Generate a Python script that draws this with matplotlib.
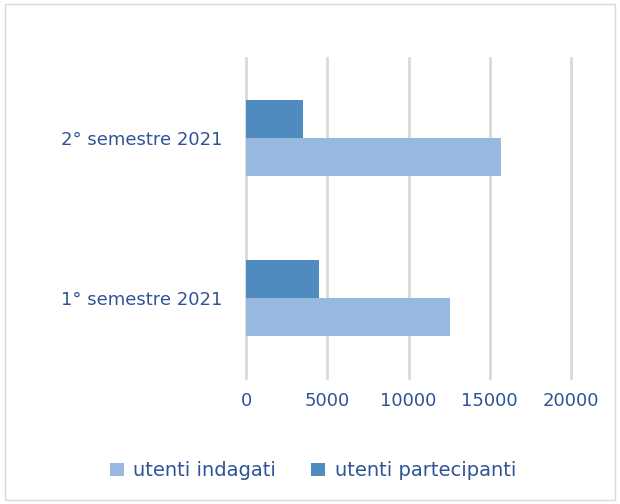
import numpy as np
import matplotlib.pyplot as plt
from matplotlib.patches import Rectangle

# dati del grafico
categorie = ['1° semestre 2021', '2° semestre 2021']
indagati = [12550, 15700]
partecipanti = [4500, 3500]
serie = ['utenti indagati', 'utenti partecipanti']
xticks = [0, 5000, 10000, 15000, 20000]

col_ind = '#97B9E0'
col_par = '#4F8BBE'
col_txt = '#2F5496'

plt.rcParams['font.family'] = ['DejaVu Sans']

fig = plt.figure(figsize=(6.2, 5.04), dpi=100)
ax = fig.add_axes([0.397, 0.25, 0.524, 0.635])

y = np.arange(len(categorie))
h = 0.24
ax.barh(y - h / 2, indagati, height=h, color=col_ind, label=serie[0], zorder=3)
ax.barh(y + h / 2, partecipanti, height=h, color=col_par, label=serie[1], zorder=3)

ax.set_xlim(0, 20000)
ax.set_ylim(-0.5, 1.5)
ax.set_xticks(xticks)
ax.set_xticklabels([str(t) for t in xticks])
ax.set_yticks(y)
ax.set_yticklabels(categorie)
ax.tick_params(axis='both', length=0, labelsize=13, colors=col_txt)
ax.tick_params(axis='x', pad=10)
ax.tick_params(axis='y', pad=17)
ax.grid(axis='x', color='#D9D9D9', linewidth=2, zorder=0)
for gl in ax.get_xgridlines():
    gl.set_clip_on(False)
for s in ax.spines.values():
    s.set_visible(False)

leg = fig.legend(loc='center', bbox_to_anchor=(0.505, 0.066), ncol=2, frameon=False,
                 fontsize=14, handlelength=0.7, handleheight=0.7,
                 handletextpad=0.5, columnspacing=1.8)
for t in leg.get_texts():
    t.set_color(col_txt)

fig.patches.append(Rectangle((0.008, 0.008), 0.984, 0.984, transform=fig.transFigure,
                             fill=False, edgecolor='#D9D9D9', linewidth=1))

fig.savefig('out.png', dpi=100)
